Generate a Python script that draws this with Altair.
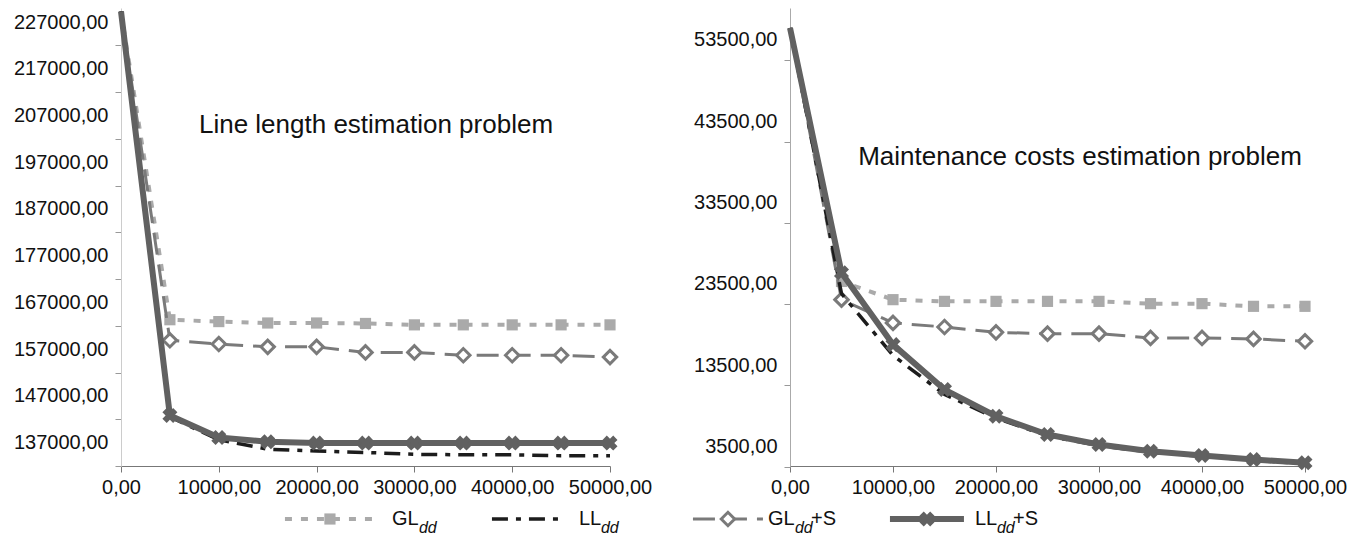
import altair as alt
import pandas as pd

# ---------------- data ----------------
x_vals = [0, 5000, 10000, 15000, 20000, 25000, 30000, 35000, 40000, 45000, 50000]
x_tick_vals = [0, 10000, 20000, 30000, 40000, 50000]

series = ["GLdd", "GLdd+S", "LLdd", "LLdd+S"]

left_gl = [229300, 163300, 162900, 162600, 162600, 162500, 162200, 162200, 162200, 162200, 162200]
left_ll = [229300, 142500, 137600, 135600, 135200, 134900, 134500, 134400, 134400, 134200, 134200]
left_gls = [229300, 158900, 158100, 157500, 157500, 156300, 156300, 155700, 155700, 155700, 155300]
left_lls = [229300, 142800, 138100, 137200, 136900, 136900, 136900, 136900, 136900, 136900, 136900]

right_gl = [55000, 23800, 21560, 21350, 21350, 21350, 21350, 21070, 21070, 20740, 20740]
right_ll = [55000, 22300, 14700, 9900, 7000, 4800, 3600, 2800, 2300, 1800, 1400]
right_gls = [55000, 21560, 18700, 18200, 17540, 17380, 17380, 16850, 16850, 16730, 16440]
right_lls = [55000, 24880, 16030, 10500, 7220, 4970, 3750, 2920, 2390, 1900, 1500]

left_y_labels = [137000, 147000, 157000, 167000, 177000, 187000, 197000, 207000, 217000, 227000]
right_y_labels = [3500, 13500, 23500, 33500, 43500, 53500]

titles = ["Line length estimation problem", "Maintenance costs estimation problem"]

legend_series = ["GLdd", "LLdd", "GLdd+S", "LLdd+S"]
legend_main = ["GL", "LL", "GL", "LL"]
legend_sub = ["dd", "dd", "dd", "dd"]
legend_suffix = ["", "", "+S", "+S"]

# ---------------- styles ----------------
FONT = "Liberation Sans"
style = {
    "GLdd": dict(color="#aaaaaa", width=4, dash=[7, 9], marker="square"),
    "GLdd+S": dict(color="#7a7a7a", width=3, dash=[22, 10], marker="diamond"),
    "LLdd": dict(color="#1c1c1c", width=3.5, dash=[16, 8, 5, 8], marker=None),
    "LLdd+S": dict(color="#616161", width=6, dash=None, marker="x"),
}
# legend sample length and label gap per entry (pixels)
legend_geom = {
    "GLdd": dict(sample=90, gap=62),
    "LLdd": dict(sample=74, gap=50),
    "GLdd+S": dict(sample=70, gap=40),
    "LLdd+S": dict(sample=74, gap=48),
}
num_label = "replace(format(datum.value, '.2f'), '.', ',')"


def make_df(vals):
    rows = []
    for s, v in zip(series, vals):
        for xv, yv in zip(x_vals, v):
            rows.append({"x": xv, "value": yv, "series": s})
    return pd.DataFrame(rows)


def marker_layer(base, s, X, Y):
    st = style[s]
    if st["marker"] == "square":
        return base.mark_point(shape="square", filled=True, color=st["color"], size=125, opacity=1).encode(x=X, y=Y)
    if st["marker"] == "diamond":
        return base.mark_point(shape="diamond", filled=True, fill="white", stroke=st["color"],
                               strokeWidth=3, size=180, opacity=1).encode(x=X, y=Y)
    if st["marker"] == "x":
        return base.mark_point(shape="cross", angle=45, filled=True, color=st["color"],
                               size=230, opacity=1).encode(x=X, y=Y)
    return None


def panel(vals, domain, labels, tick_off, width, title, tx, ty, ydomain_color):
    df = make_df(vals)
    X = alt.X("x:Q", scale=alt.Scale(domain=[0, 50000], nice=False, zero=False),
              axis=alt.Axis(values=x_tick_vals, labelExpr=num_label, title=None, grid=False,
                            tickSize=6, labelPadding=5, domainColor="#777777", tickColor="#777777",
                            labelFlush=False, labelOverlap=False, labelFont=FONT, labelFontSize=20,
                            labelColor="#111111"))
    Y = alt.Y("value:Q", scale=alt.Scale(domain=domain, nice=False, zero=False),
              axis=alt.Axis(values=labels, labelExpr=num_label, title=None, grid=False,
                            tickSize=6, labelPadding=7, tickOffset=tick_off, labelOffset=-tick_off,
                            domainColor=ydomain_color, tickColor="#999999", labelOverlap=False,
                            labelFont=FONT, labelFontSize=20, labelColor="#111111"))
    layers = []
    for s in series:
        st = style[s]
        base = alt.Chart(df).transform_filter(alt.datum.series == s)
        kw = dict(color=st["color"], strokeWidth=st["width"], strokeJoin="round")
        if st["dash"]:
            kw["strokeDash"] = st["dash"]
        layers.append(base.mark_line(**kw).encode(x=X, y=Y))
        # markers are hidden under the line start at x = 0 in the original
        m = marker_layer(base.transform_filter(alt.datum.x > 0), s, X, Y)
        if m is not None:
            layers.append(m)
    tdf = pd.DataFrame({"t": [title]})
    layers.append(alt.Chart(tdf).mark_text(font=FONT, fontSize=26, color="#111111", align="center",
                                           baseline="middle").encode(
        x=alt.value(tx), y=alt.value(ty), text="t:N"))
    return alt.layer(*layers).properties(width=width, height=458)


left = panel([left_gl, left_gls, left_ll, left_lls], [132000, 230000], left_y_labels, 23.4,
             489, titles[0], 255, 117, "#cccccc")
right = panel([right_gl, right_gls, right_ll, right_lls], [1100, 57435], right_y_labels, 20.3,
              515, titles[1], 290, 149, "#aaaaaa")

# ---------------- legend ----------------
ldf = pd.DataFrame({"series": legend_series, "main": legend_main, "sub": legend_sub, "suffix": legend_suffix})
LX = alt.X("series:N", scale=alt.Scale(type="point", domain=legend_series, padding=1, align=0.525),
           axis=None)
LY = alt.value(16)
sub_dx = {"GL": 27, "LL": 22}
leg_layers = []
for s, mn in zip(legend_series, legend_main):
    st = style[s]
    g = legend_geom[s]
    base = alt.Chart(ldf).transform_filter(alt.datum.series == s)
    kw = dict(shape="M-1,0L1,0", filled=False, stroke=st["color"], strokeWidth=st["width"],
              size=g["sample"] ** 2, opacity=1)
    if st["dash"]:
        kw["strokeDash"] = st["dash"]
    leg_layers.append(base.mark_point(**kw).encode(x=LX, y=LY))
    m = marker_layer(base, s, LX, LY)
    if m is not None:
        leg_layers.append(m)
    leg_layers.append(base.mark_text(font=FONT, fontSize=20, align="left", baseline="middle", dx=g["gap"],
                                     color="#111111").encode(x=LX, y=LY, text="main:N"))
    leg_layers.append(base.mark_text(font=FONT, fontSize=16, fontStyle="italic", align="left",
                                     baseline="middle", dx=g["gap"] + sub_dx[mn], dy=9,
                                     color="#111111").encode(x=LX, y=LY, text="sub:N"))
    leg_layers.append(base.mark_text(font=FONT, fontSize=20, align="left", baseline="middle",
                                     dx=g["gap"] + sub_dx[mn] + 16, color="#111111").encode(
        x=LX, y=LY, text="suffix:N"))
legend = alt.layer(*leg_layers).properties(width=995, height=28)

chart = alt.vconcat(
    alt.hconcat(left, right, spacing=41),
    legend,
    spacing=6,
).properties(
    padding={"left": 5, "top": 0, "right": 5, "bottom": 0},
    background="white",
).configure_view(strokeWidth=0)

chart.save("out.html", embed_options={"renderer": "svg", "actions": False})
